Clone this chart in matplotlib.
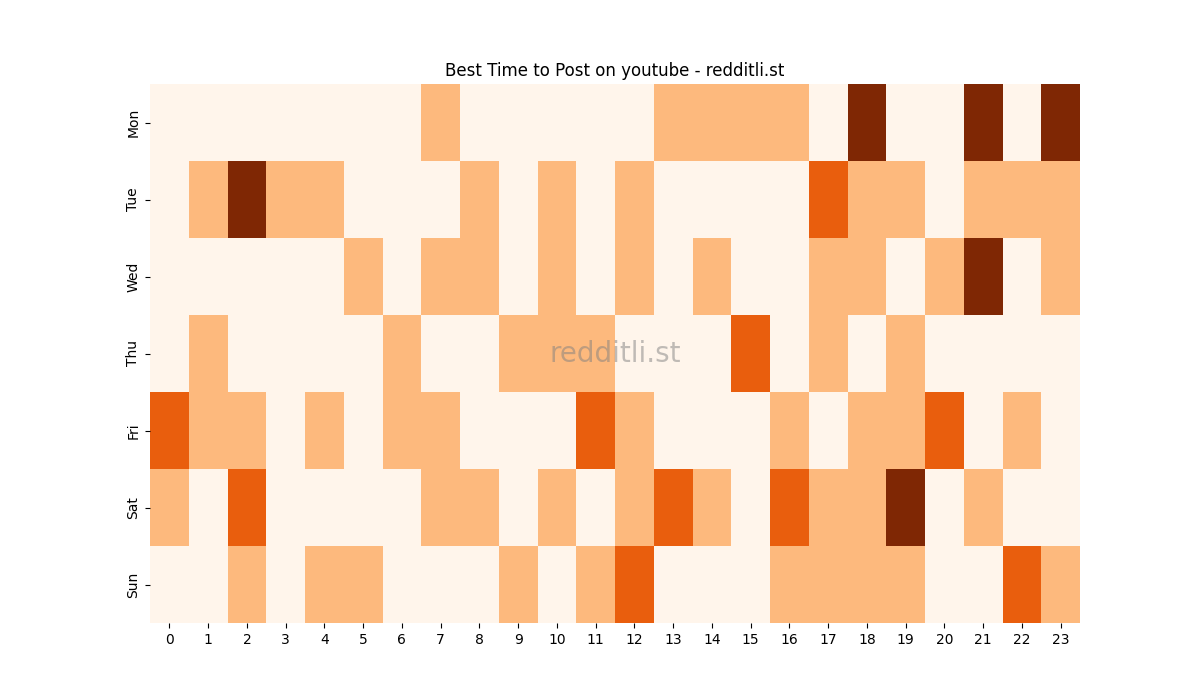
import matplotlib
matplotlib.use("Agg")
import matplotlib.pyplot as plt
import seaborn as sns
import numpy as np

days = ["Mon", "Tue", "Wed", "Thu", "Fri", "Sat", "Sun"]
hours = list(range(24))
mon = [0,0,0,0,0,0,0,1,0,0,0,0,0,1,1,1,1,0,3,0,0,3,0,3]
tue = [0,1,3,1,1,0,0,0,1,0,1,0,1,0,0,0,0,2,1,1,0,1,1,1]
wed = [0,0,0,0,0,1,0,1,1,0,1,0,1,0,1,0,0,1,1,0,1,3,0,1]
thu = [0,1,0,0,0,0,1,0,0,1,1,1,0,0,0,2,0,1,0,1,0,0,0,0]
fri = [2,1,1,0,1,0,1,1,0,0,0,2,1,0,0,0,1,0,1,1,2,0,1,0]
sat = [1,0,2,0,0,0,0,1,1,0,1,0,1,2,1,0,2,1,1,3,0,1,0,0]
sun = [0,0,1,0,1,1,0,0,0,1,0,1,2,0,0,0,1,1,1,1,0,0,2,1]

data = np.array([mon, tue, wed, thu, fri, sat, sun])

fig, ax = plt.subplots(figsize=(12, 7), dpi=100)
sns.heatmap(data, cmap="Oranges", vmin=0, vmax=3, cbar=False, ax=ax,
            xticklabels=hours, yticklabels=days)
ax.set_title("Best Time to Post on youtube - redditli.st")
ax.text(0.5, 0.5, "redditli.st", transform=ax.transAxes, ha="center", va="center",
        fontsize=20, color="gray", alpha=0.5)
fig.savefig("out.png")
